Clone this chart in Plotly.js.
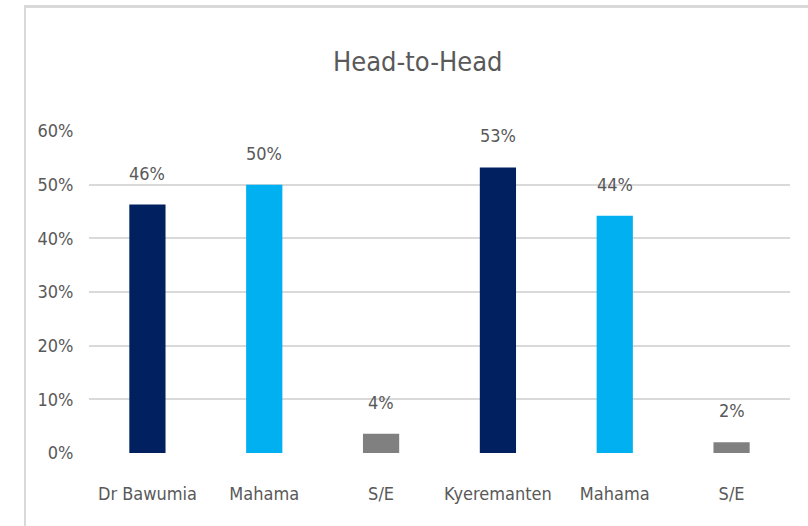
<!DOCTYPE html>
<html>
<head>
<meta charset="utf-8">
<script src="https://cdn.plot.ly/plotly-3.0.1.min.js"></script>
<style>
  html, body { margin: 0; padding: 0; background: #fff; }
  #wrap { position: relative; width: 808px; height: 526px; overflow: hidden; }
  #chart { position: absolute; left: 0; top: 0; width: 808px; height: 526px; }
  .bt { position: absolute; left: 24px; top: 5px; width: 784px; height: 3px; background: #d9d9d9; pointer-events: none; }
  .bl { position: absolute; left: 24px; top: 5px; width: 2px; height: 521px; background: #d9d9d9; pointer-events: none; }
</style>
</head>
<body>
<div id="wrap">
  <div id="chart"></div>
  <div class="bt"></div>
  <div class="bl"></div>
</div>
<script>
const categories = ["Dr Bawumia", "Mahama", "S/E", "Kyeremanten", "Mahama", "S/E"];
const values = [46.3, 50.0, 3.6, 53.2, 44.2, 2.0];
const valueLabels = ["46%", "50%", "4%", "53%", "44%", "2%"];
const barColors = ["#002060", "#00B0F0", "#808080", "#002060", "#00B0F0", "#808080"];
const yTicks = [0, 10, 20, 30, 40, 50, 60];

const FONT = "'DejaVu Sans Condensed', 'Liberation Sans Narrow', sans-serif";
const idx = categories.map((_, i) => i);

const trace = {
  type: "bar",
  x: idx,
  y: values,
  width: 0.31,
  marker: { color: barColors },
  hoverinfo: "skip"
};

const annotations = idx.map(i => ({
  x: i, y: values[i], xref: "x", yref: "y",
  text: valueLabels[i], showarrow: false,
  yanchor: "bottom", yshift: 19,
  font: { family: FONT, size: 18, color: "#595959" }
}));

const layout = {
  width: 808, height: 526,
  margin: { l: 89, r: 18, t: 131, b: 73 },
  paper_bgcolor: "#ffffff",
  plot_bgcolor: "#ffffff",
  showlegend: false,
  title: {
    text: "Head-to-Head",
    x: 0.517, xanchor: "center", xref: "container",
    y: 1 - 62 / 526, yanchor: "middle", yref: "container",
    font: { family: FONT, size: 27, color: "#595959" }
  },
  xaxis: {
    range: [-0.5, 5.5],
    tickmode: "array",
    tickvals: idx,
    ticktext: categories,
    showgrid: false,
    zeroline: false,
    showline: false,
    ticks: "outside", ticklen: 24, tickcolor: "rgba(0,0,0,0)",
    tickfont: { family: FONT, size: 18, color: "#595959" },
    fixedrange: true
  },
  yaxis: {
    range: [0, 60],
    tickmode: "array",
    tickvals: yTicks,
    ticktext: yTicks.map(v => v + "%"),
    showgrid: true, gridcolor: "#d9d9d9", gridwidth: 2,
    zeroline: false, showline: false,
    ticks: "outside", ticklen: 11, tickcolor: "rgba(0,0,0,0)",
    tickfont: { family: FONT, size: 18, color: "#595959" },
    fixedrange: true
  },
  annotations: annotations
};

Plotly.newPlot("chart", [trace], layout, { displayModeBar: false, staticPlot: true });
</script>
</body>
</html>
